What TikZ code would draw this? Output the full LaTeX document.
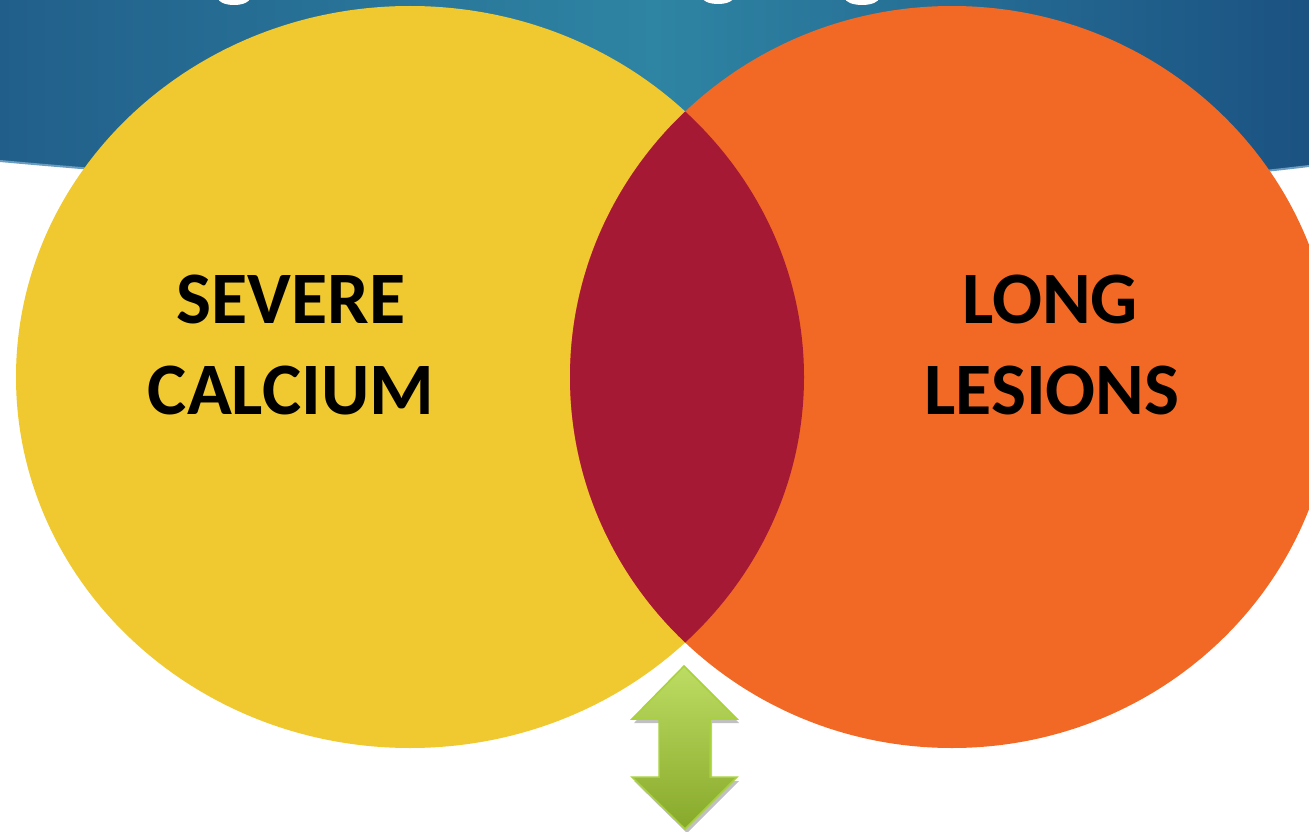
\documentclass[tikz,border=0pt]{standalone}
\usepackage{fontspec}
\setmainfont{Carlito}
\usetikzlibrary{shadows}
\definecolor{bannerL}{HTML}{215F8A}
\definecolor{bannerM}{HTML}{2E84A3}
\definecolor{bannerR}{HTML}{1B5282}
\definecolor{bannerEdge}{HTML}{6A9CC0}
\definecolor{venYellow}{HTML}{F0C82F}
\definecolor{venOrange}{HTML}{F26925}
\definecolor{venLens}{HTML}{A61934}
\definecolor{arrTop}{HTML}{BDDC63}
\definecolor{arrBot}{HTML}{87A92A}
\definecolor{arrEdge}{HTML}{A8D13C}
\tikzset{
  venlabel/.style={anchor=base, inner sep=0pt, text=black,
    font=\bfseries\fontsize{74}{91}\selectfont},
  arrowshape/.style={draw=arrEdge, line width=1.5pt, line join=miter,
    top color=arrTop, bottom color=arrBot,
    drop shadow={shadow xshift=2pt, shadow yshift=-4pt, opacity=0.35, fill=black!70}},
}
\begin{document}
\begin{tikzpicture}[x=1pt,y=-1pt]
\useasboundingbox (0,0) rectangle (1309,832);
\clip (0,0) rectangle (1309,832);
\fill[white] (0,0) rectangle (1309,832);
% banner
\fill[left color=bannerL, right color=bannerR, middle color=bannerM]
  (0,0) -- (1309,0) -- (1309,166) .. controls (900,215) and (430,200) .. (0,161) -- cycle;
\draw[bannerEdge, line width=2pt] (1309,166) .. controls (900,215) and (430,200) .. (0,161);
% cut-off title fragments
\fill[white] (234,-2) ellipse [x radius=16, y radius=7];
\fill[white] (718,-3) ellipse [x radius=16, y radius=7];
\fill[white] (862,-2) ellipse [x radius=17, y radius=7];
% venn
\fill[venYellow] (410,377) ellipse [x radius=394, y radius=371];
\fill[venOrange] (952,377) ellipse [x radius=382, y radius=371];
\begin{scope}
  \clip (410,377) ellipse [x radius=394, y radius=371];
  \fill[venLens] (952,377) ellipse [x radius=382, y radius=371];
\end{scope}
% labels
\node[venlabel] (sev) at (291,323) {SEVERE};
\node[venlabel] (cal) at (291,414) {CALCIUM};
\node[venlabel] (lng) at (1050,323) {LONG};
\node[venlabel] (les) at (1052,414) {LESIONS};
% double arrow
\path[arrowshape] (684,666) -- (737,719) -- (710,719) -- (710,777) -- (737,777)
  -- (685,829) -- (632,777) -- (659,777) -- (659,719) -- (632,719) -- cycle;
\end{tikzpicture}
\end{document}
